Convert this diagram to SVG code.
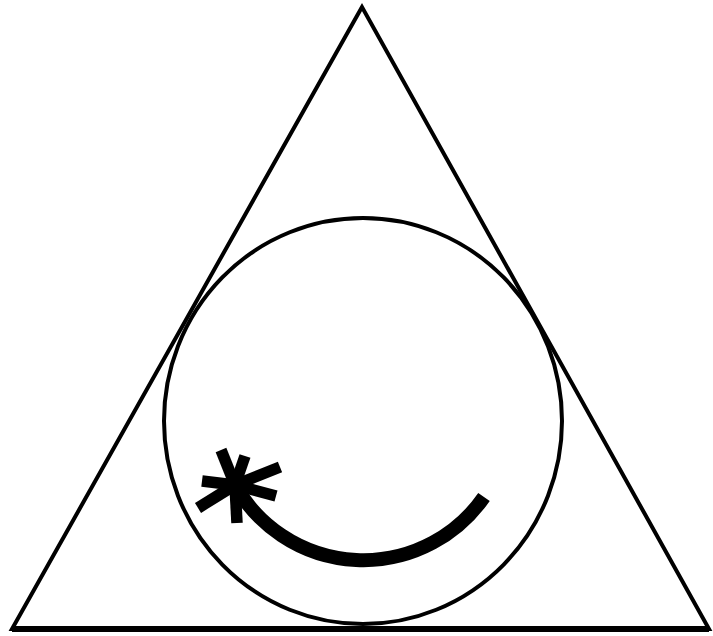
<svg xmlns="http://www.w3.org/2000/svg" width="713" height="636" viewBox="0 0 713 636">
<style>
.ln{fill:none;stroke:#000;stroke-linejoin:miter}
.arm{stroke:#000;stroke-width:11.5;stroke-linecap:butt}
</style>
<rect width="713" height="636" fill="#fff"/>
<g id="triangle">
<path class="ln" d="M362,7 L12,629 L709,629 Z" stroke-width="4"/>
<line class="ln" x1="12" y1="629" x2="709" y2="629" stroke-width="6"/>
</g>
<g id="circle">
<ellipse class="ln" cx="363" cy="421" rx="199" ry="203" stroke-width="4"/>
</g>
<g id="star">
<line class="arm" x1="235" y1="485" x2="221" y2="450"/>
<line class="arm" x1="235" y1="485" x2="245" y2="456"/>
<line class="arm" x1="235" y1="485" x2="280" y2="467"/>
<line class="arm" x1="235" y1="485" x2="276" y2="496"/>
<line class="arm" x1="235" y1="485" x2="237" y2="523"/>
<line class="arm" x1="235" y1="485" x2="198" y2="508"/>
<line class="arm" x1="235" y1="485" x2="202" y2="481"/>
</g>
<g id="arc">
<path class="ln" d="M235,485 A147,147 0 0 0 484,497" stroke-width="14"/>
</g>
</svg>
